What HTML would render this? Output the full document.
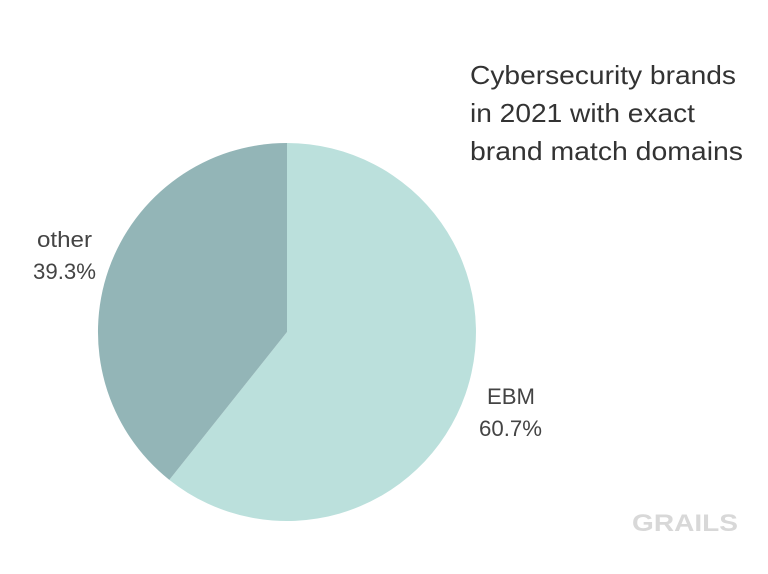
<!DOCTYPE html>
<html><head><style>
body{margin:0;width:768px;height:569px;background:#fff;overflow:hidden;font-family:"Liberation Sans",sans-serif;}
</style></head><body>
<svg width="768" height="569" xmlns="http://www.w3.org/2000/svg">
<path d="M287,332 L287,143 A189,189 0 1 1 169.3,479.9 Z" fill="#bbe0dc"/>
<path d="M287,332 L169.3,479.9 A189,189 0 0 1 287,143 Z" fill="#93b5b7"/>
<g font-family="Liberation Sans, sans-serif" fill="#333" font-size="26">
<text x="470" y="84" textLength="266" lengthAdjust="spacingAndGlyphs">Cybersecurity brands</text>
<text x="470" y="122" textLength="225" lengthAdjust="spacingAndGlyphs">in 2021 with exact</text>
<text x="470" y="160" textLength="273" lengthAdjust="spacingAndGlyphs">brand match domains</text>
</g>
<g font-family="Liberation Sans, sans-serif" fill="#444" font-size="22">
<text x="37" y="247" textLength="55" lengthAdjust="spacingAndGlyphs">other</text>
<text x="33" y="279" textLength="63" lengthAdjust="spacingAndGlyphs">39.3%</text>
<text x="487" y="404" textLength="48" lengthAdjust="spacingAndGlyphs">EBM</text>
<text x="479" y="436" textLength="63" lengthAdjust="spacingAndGlyphs">60.7%</text>
</g>
<text x="632" y="531" font-family="Liberation Sans, sans-serif" font-weight="bold" font-size="24" fill="#d8d8d8" textLength="106" lengthAdjust="spacingAndGlyphs">GRAILS</text>
</svg>
</body></html>
